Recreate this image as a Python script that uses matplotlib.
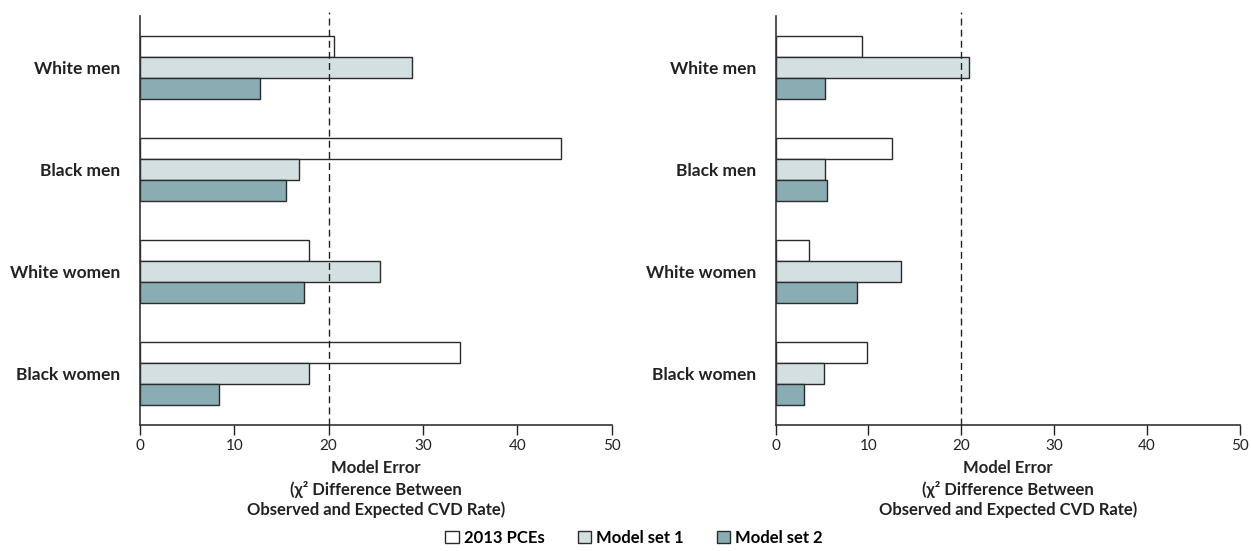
import matplotlib
matplotlib.use("Agg")
import matplotlib.pyplot as plt
import numpy as np
from matplotlib.patches import Patch

groups = ["White men", "Black men", "White women", "Black women"]
series = ["2013 PCEs", "Model set 1", "Model set 2"]

left_pce = [20.6, 44.6, 17.9, 33.9]
left_set1 = [28.8, 16.9, 25.4, 17.9]
left_set2 = [12.7, 15.5, 17.4, 8.4]

right_pce = [9.3, 12.5, 3.6, 9.8]
right_set1 = [20.8, 5.3, 13.5, 5.2]
right_set2 = [5.3, 5.5, 8.8, 3.1]

threshold = 20
xticks = [0, 10, 20, 30, 40, 50]

colors = ["#ffffff", "#d3dfe1", "#89adb2"]
edge = "#2b2b2b"

plt.rcParams["font.family"] = ["Lato", "DejaVu Sans"]

fig = plt.figure(figsize=(12.51, 5.51), dpi=100)
ax1 = fig.add_axes([0.1119, 0.229, 0.377, 0.742])
ax2 = fig.add_axes([0.620, 0.229, 0.371, 0.742])

xlabel = "Model Error\n(χ² Difference Between\nObserved and Expected CVD Rate)"


def draw_panel(ax, vals):
    y = np.arange(len(groups))
    h = 0.206
    for k, v in enumerate(vals):
        ax.barh(y + (k - 1) * h, v, height=h, color=colors[k],
                edgecolor=edge, linewidth=1.0, zorder=2)
    ax.axvline(threshold, color="#222222", linestyle=(0, (5, 3)),
               linewidth=1.0, ymin=0, ymax=1.01, clip_on=False, zorder=3)
    ax.set_ylim(3.5, -0.5)
    ax.set_xlim(0, 50)
    ax.set_yticks(y)
    ax.set_yticklabels(groups, fontsize=12.5, fontweight="bold", color="#222222")
    ax.tick_params(axis="y", length=0, pad=14)
    ax.set_xticks(xticks)
    ax.tick_params(axis="x", direction="out", length=7, labelsize=11,
                   colors="#222222", width=1.0)
    for s in ["top", "right"]:
        ax.spines[s].set_visible(False)
    for s in ["left", "bottom"]:
        ax.spines[s].set_linewidth(1.2)
        ax.spines[s].set_color("#333333")
    ax.set_xlabel(xlabel, fontsize=12, fontweight="bold", color="#222222",
                  linespacing=1.3, labelpad=5)


draw_panel(ax1, [left_pce, left_set1, left_set2])
draw_panel(ax2, [right_pce, right_set1, right_set2])

handles = [Patch(facecolor=c, edgecolor=edge, linewidth=1.0) for c in colors]
fig.legend(handles, series, loc="center", bbox_to_anchor=(0.507, 0.024),
           ncol=3, frameon=False, handlelength=0.8,
           handleheight=0.8, handletextpad=0.3, columnspacing=2.0,
           borderpad=0.1, prop={"weight": "bold", "size": 12})

fig.savefig("out.png", dpi=100)
